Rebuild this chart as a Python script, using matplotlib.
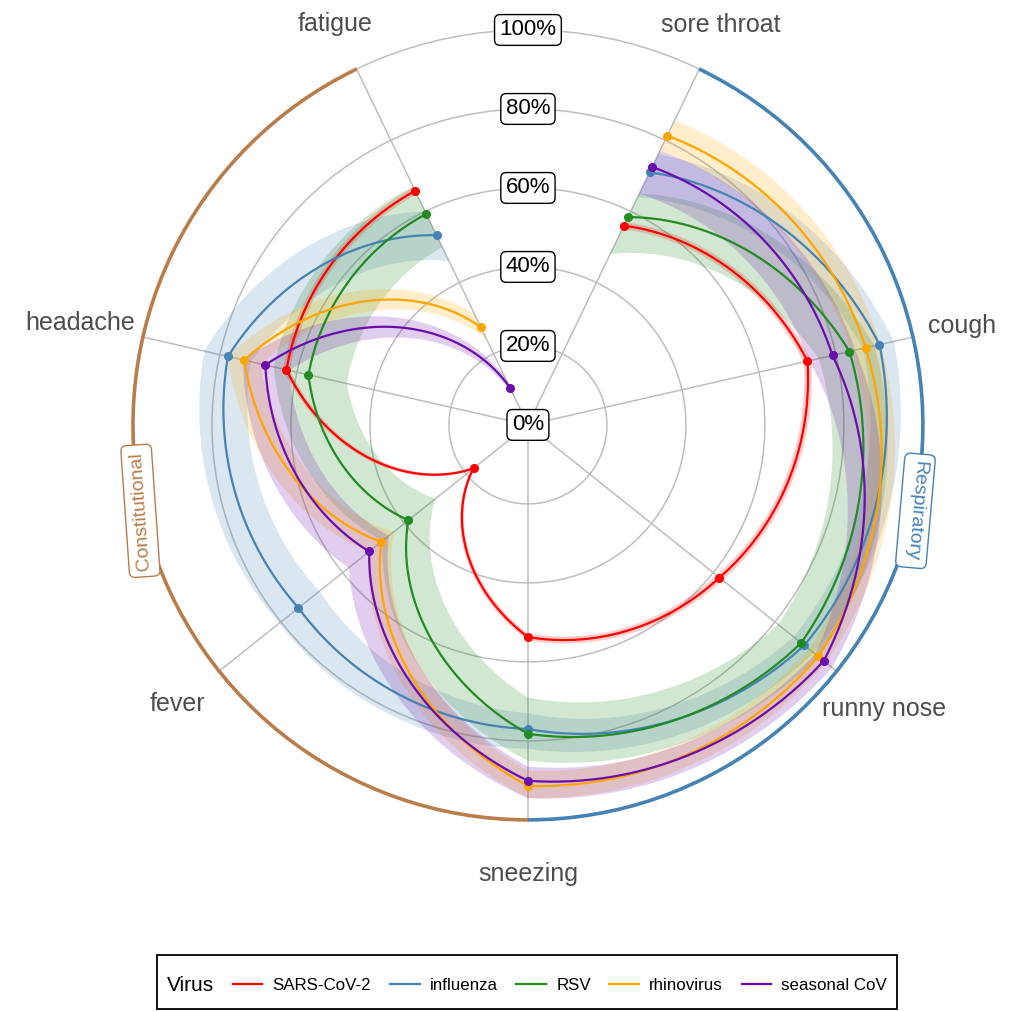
import numpy as np
import matplotlib.pyplot as plt
from matplotlib.path import Path
from matplotlib.patches import PathPatch, Rectangle
from matplotlib.lines import Line2D

plt.rcParams['font.family'] = ['Liberation Sans', 'DejaVu Sans']

SYMPTOMS = ["sore throat", "cough", "runny nose", "sneezing", "fever", "headache", "fatigue"]
VIRUSES = ["SARS-CoV-2", "influenza", "RSV", "rhinovirus", "seasonal CoV"]
COLORS = ["#FF0000", "#4682B4", "#228B22", "#FFA500", "#6A0DAD"]

# percent of cases with each symptom, with interval bounds
sars_cov2 = [56.0, 72.6, 62.0, 53.7, 17.6, 62.7, 65.8]
sars_cov2_lo = [55.0, 71.6, 61.0, 52.8, 16.8, 61.8, 64.8]
sars_cov2_hi = [57.0, 73.6, 63.0, 54.6, 18.4, 63.6, 66.8]

influenza = [71.0, 91.3, 89.5, 77.0, 74.3, 77.9, 53.3]
influenza_lo = [64.0, 87.0, 86.0, 73.0, 67.5, 72.0, 46.0]
influenza_hi = [76.0, 95.0, 92.5, 82.0, 80.5, 84.0, 60.0]

rsv = [58.4, 83.5, 88.5, 78.2, 38.7, 57.0, 59.3]
rsv_lo = [48.0, 75.5, 81.0, 69.0, 30.0, 47.0, 50.0]
rsv_hi = [65.0, 90.0, 94.0, 85.0, 47.0, 66.0, 67.0]

rhinovirus = [81.3, 87.7, 94.0, 91.4, 47.5, 73.7, 27.4]
rhinovirus_lo = [77.0, 84.0, 91.0, 87.5, 43.5, 69.5, 24.0]
rhinovirus_hi = [85.5, 91.5, 96.5, 94.5, 51.5, 78.0, 31.0]

seasonal_cov = [72.5, 79.1, 95.8, 90.1, 51.4, 68.2, 10.4]
seasonal_cov_lo = [65.0, 73.0, 93.0, 86.5, 45.0, 62.0, 7.5]
seasonal_cov_hi = [77.0, 85.0, 98.5, 94.5, 58.0, 74.0, 13.5]

MID = [sars_cov2, influenza, rsv, rhinovirus, seasonal_cov]
LO = [sars_cov2_lo, influenza_lo, rsv_lo, rhinovirus_lo, seasonal_cov_lo]
HI = [sars_cov2_hi, influenza_hi, rsv_hi, rhinovirus_hi, seasonal_cov_hi]

GROUPS = ["Respiratory", "Constitutional"]
GROUP_COLORS = ["#4682B4", "#B87D4B"]
GROUP_SPAN = [(0, 3), (3, 6)]
GROUP_LABEL_ANGLE = [102.5, 257.5]
GROUP_LABEL_ROT = [-95, 94]

RTICKS = [0, 20, 40, 60, 80, 100]
LABEL_R = [112.4, 112.8, 115.2, 113.7, 113.4, 116.2, 112.6]
STEPS = 60


def spiral(t, r, closed=False):
    # polar transform bends each segment along theta when steps > 1
    verts = np.column_stack([t, r])
    if closed:
        verts = np.vstack([verts, verts[:1]])
    return Path(verts, closed=closed, _interpolation_steps=STEPS)


def main():
    fig = plt.figure(figsize=(10.1, 10.11), dpi=100)
    ax = fig.add_axes([0.1297, 0.187, 0.786, 0.7854], projection='polar')
    ax.set_theta_zero_location('N')
    ax.set_theta_direction(-1)
    ax.set_ylim(0, 100.5)

    theta = (np.arange(len(SYMPTOMS)) + 0.5) * 2 * np.pi / len(SYMPTOMS)
    ax.set_xticks(theta)
    ax.set_xticklabels([])
    ax.set_yticks(RTICKS)
    ax.set_yticklabels([])
    ax.tick_params(length=0)
    ax.grid(color='#BEBEBE', lw=1.1)
    ax.spines['polar'].set_visible(False)

    for mid, lo, hi, c in zip(MID, LO, HI, COLORS):
        t = np.concatenate([theta, theta[::-1]])
        r = np.concatenate([lo, hi[::-1]])
        ax.add_patch(PathPatch(spiral(t, r, closed=True), transform=ax.transData,
                               fc=c, ec='none', alpha=0.2, zorder=2))

    for mid, c in zip(MID, COLORS):
        ax.add_patch(PathPatch(spiral(theta, mid), transform=ax.transData,
                               fill=False, ec=c, lw=1.6, zorder=3))
        ax.plot(theta, mid, 'o', ms=5.5, color=c, ls='none', zorder=4)

    for name, c, (a, b), ang, rot in zip(GROUPS, GROUP_COLORS, GROUP_SPAN,
                                         GROUP_LABEL_ANGLE, GROUP_LABEL_ROT):
        ax.add_patch(PathPatch(spiral([theta[a], theta[b]], [100, 100]),
                               transform=ax.transData, fill=False, ec=c,
                               lw=2.6, zorder=5, clip_on=False))
        ax.text(np.deg2rad(ang), 100.5, name, rotation=rot, rotation_mode='anchor',
                ha='center', va='center', color=c, fontsize=14, zorder=6,
                bbox=dict(boxstyle='round,pad=0.35,rounding_size=0.3',
                          fc='white', ec=c, lw=1))

    for t, name, lr in zip(theta, SYMPTOMS, LABEL_R):
        ax.text(t, lr, name, ha='center', va='center', fontsize=18, color='#4D4D4D')

    for v in RTICKS:
        ax.text(0, v, f"{v}%", ha='center', va='center', fontsize=16, zorder=7,
                bbox=dict(boxstyle='round,pad=0.22,rounding_size=0.25',
                          fc='white', ec='black', lw=1))

    handles = [Line2D([], [], color=c, lw=1.6) for c in COLORS]
    fig.legend(handles, VIRUSES, ncol=5, loc='center', bbox_to_anchor=(0.5545, 0.0257),
               frameon=False, fontsize=12.2, handlelength=1.75, handletextpad=0.6,
               columnspacing=1.1)
    fig.text(167 / 1010, 0.0257, "Virus", fontsize=15, va='center')
    fig.add_artist(Rectangle((157 / 1010, 0.0015), 740 / 1010, 0.054,
                             transform=fig.transFigure, fill=False, ec='black', lw=1.3))

    fig.savefig('out.png', dpi=100)


if __name__ == '__main__':
    main()
